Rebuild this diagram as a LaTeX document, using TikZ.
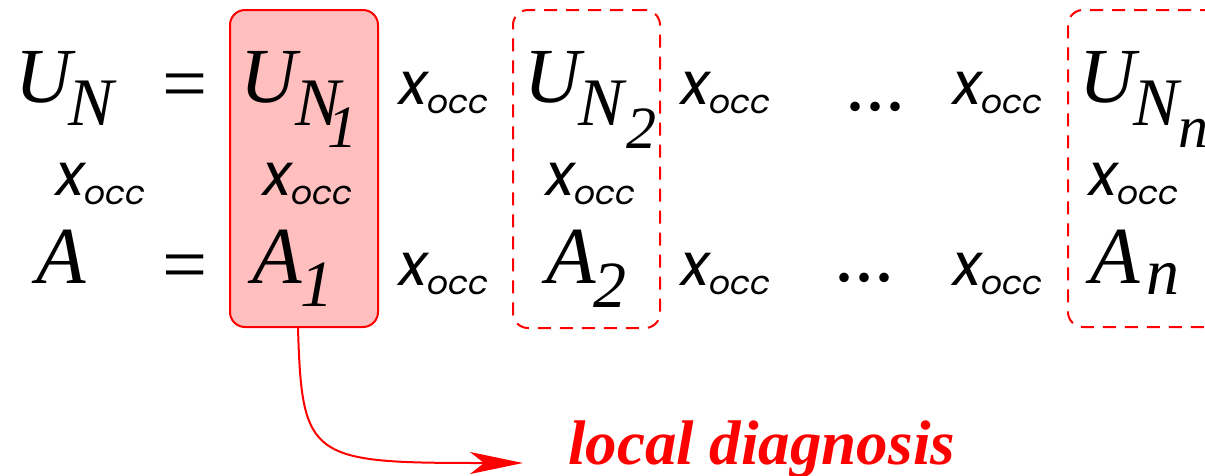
\documentclass[tikz,border=0pt]{standalone}
\usepackage{fontspec}
\setmainfont{Liberation Serif}
\newfontfamily\occfont{Poppins}
\usetikzlibrary{arrows.meta}
\definecolor{boxred}{RGB}{255,0,0}
\definecolor{boxfill}{RGB}{255,191,191}
\newcommand\xocc{{\occfont\itshape\fontsize{59}{59}\selectfont x}\raisebox{-9pt}{\occfont\itshape\fontsize{33}{33}\selectfont occ}}
\begin{document}
\begin{tikzpicture}[x=1pt,y=-1pt,
  txt/.style={inner sep=0pt, anchor=base west},
  capU/.style={txt, font=\fontsize{78}{78}\selectfont\itshape},
  capA/.style={txt, font=\fontsize{81}{81}\selectfont\itshape},
  subN/.style={txt, font=\fontsize{68}{68}\selectfont\itshape},
  subsub/.style={txt, font=\fontsize{60}{60}\selectfont\itshape},
  subA/.style={txt, font=\fontsize{66}{66}\selectfont\itshape},
  eqs/.style={inner sep=0pt, font=\fontsize{80}{80}\selectfont},
  dots/.style={txt, font=\fontsize{80}{80}\selectfont},
  occ/.style={txt},
  selbox/.style={draw=boxred, fill=boxfill, line width=2pt, rounded corners=15pt, inner sep=0pt},
  candbox/.style={draw=boxred, line width=2pt, dash pattern=on 13pt off 9pt, rounded corners=15pt, inner sep=0pt},
  link/.style={draw=boxred, line width=2pt, -{Stealth[length=53pt, width=22pt, inset=14pt]}}
]
\useasboundingbox (0,0) rectangle (1205,475);
% boxes
\node[selbox, minimum width=148pt, minimum height=317pt] (b1) at (304,168.5) {};
\node[candbox, minimum width=147pt, minimum height=318pt] (b2) at (586.5,169) {};
\node[candbox, minimum width=160pt, minimum height=317pt] (bn) at (1148,168.5) {};
% row 1
\node[capU] (u0) at (15,102) {U};
\node[subN] (n0) at (68,125) {N};
\node[eqs] (eq1) at (185,92) {=};
\node[capU] (u1) at (240,102) {U};
\node[subN] (n1) at (295,125) {N};
\node[subsub] (s1) at (327,147) {1};
\node[occ] (xa1) at (399,104) {\xocc};
\node[capU] (u2) at (524,102) {U};
\node[subN] (n2) at (578,125) {N};
\node[subsub] (s2) at (626,148) {2};
\node[occ] (xa2) at (681,104) {\xocc};
\node[dots] (d1) at (845,110) {...};
\node[occ] (xa3) at (953,104) {\xocc};
\node[capU] (un) at (1079,102) {U};
\node[subN] (nn) at (1133,125) {N};
\node[subsub] (sn) at (1178,147) {n};
% row 2
\node[occ] (xb0) at (56,195) {\xocc};
\node[occ] (xb1) at (263,195) {\xocc};
\node[occ] (xb2) at (546,195) {\xocc};
\node[occ] (xbn) at (1089,195) {\xocc};
% row 3
\node[capA] (a0) at (36,283) {A};
\node[eqs] (eq2) at (185,273) {=};
\node[capA] (a1) at (252,283) {A};
\node[subA] (t1) at (300,306) {1};
\node[occ] (xc1) at (399,285) {\xocc};
\node[capA] (a2) at (546,283) {A};
\node[subA] (t2) at (593,307) {2};
\node[occ] (xc2) at (681,285) {\xocc};
\node[dots] (d2) at (834,281) {...};
\node[occ] (xc3) at (953,285) {\xocc};
\node[capA] (an) at (1090,283) {A};
\node[subA] (tn) at (1146,294) {n};
% label and link
\node[txt, text=boxred, font=\fontsize{63}{63}\selectfont\bfseries\itshape] (diag) at (568,464) {local diagnosis};
\coordinate (tip) at (523,463);
\draw[link] ([xshift=-6pt]b1.south) .. controls (302,460) and (310,463) .. (tip);
\end{tikzpicture}
\end{document}
